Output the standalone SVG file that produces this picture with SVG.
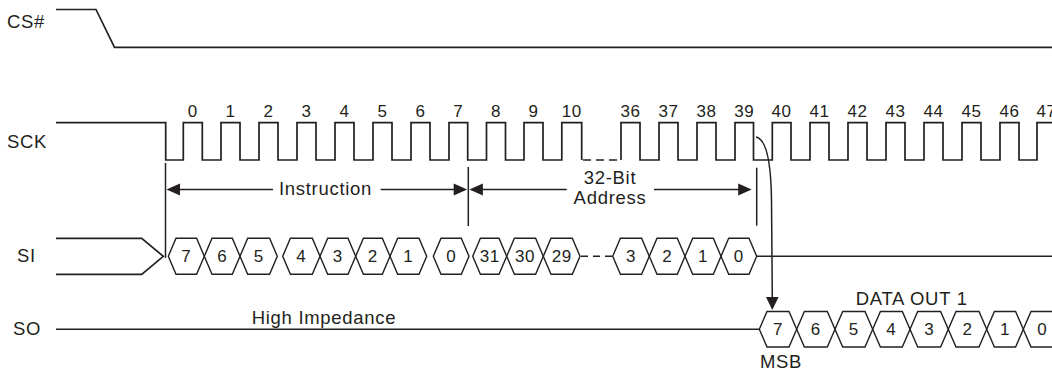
<svg xmlns="http://www.w3.org/2000/svg" width="1052" height="371" viewBox="0 0 1052 371">
<style>
.w{fill:none;stroke:#231f20;stroke-width:1.7;stroke-linejoin:miter}
.h{fill:none;stroke:#231f20;stroke-width:1.4}
.d{fill:none;stroke:#231f20;stroke-width:1.7;stroke-dasharray:8 5}
.c{fill:none;stroke:#231f20;stroke-width:1.5}
.ah{fill:#231f20;stroke:none}
text{font-family:"Liberation Sans",Arial,Helvetica,sans-serif;fill:#231f20}
.lb{font-size:18.5px;letter-spacing:0.7px}
.n{font-size:17px;text-anchor:middle;letter-spacing:0.6px}
.m{text-anchor:middle}
</style>
<rect width="1052" height="371" fill="#fff"/>

<g id="cs">
<text class="lb" x="7" y="28">CS#</text>
<path class="w" d="M56,9.5 H96 L114.5,47.3 H1052"/>
</g>

<g id="sck">
<text class="lb" x="7" y="148">SCK</text>
<path class="w" d="M56,122.7 H165.7 V160 H183.3 V122.7 H202.3 V160 H221 V122.7 H240 V160 H259 V122.7 H278 V160 H297 V122.7 H316 V160 H335 V122.7 H354 V160 H373 V122.7 H392 V160 H411 V122.7 H430 V160 H449 V122.7 H467.7 V160 H486.5 V122.7 H505.5 V160 H524 V122.7 H543 V160 H561.8 V122.7 H581.7 V160"/>
<path class="d" d="M583,160 H621"/>
<path class="w" d="M621,160 V122.7 H640 V160 H659 V122.7 H678 V160 H697 V122.7 H716 V160 H735 V122.7 H753.5 V160 H772.3 V122.7 H791 V160 H810 V122.7 H829 V160 H848 V122.7 H867 V160 H886 V122.7 H905 V160 H924 V122.7 H943 V160 H962 V122.7 H981 V160 H1000 V122.7 H1019 V160 H1037 V122.7 H1056"/>
<text class="n" x="192.8" y="117">0</text>
<text class="n" x="230.5" y="117">1</text>
<text class="n" x="268.5" y="117">2</text>
<text class="n" x="306.5" y="117">3</text>
<text class="n" x="344.5" y="117">4</text>
<text class="n" x="382.5" y="117">5</text>
<text class="n" x="420.5" y="117">6</text>
<text class="n" x="458.3" y="117">7</text>
<text class="n" x="496" y="117">8</text>
<text class="n" x="533.5" y="117">9</text>
<text class="n" x="571.7" y="117">10</text>
<text class="n" x="630.5" y="117">36</text>
<text class="n" x="668.5" y="117">37</text>
<text class="n" x="706.5" y="117">38</text>
<text class="n" x="744.3" y="117">39</text>
<text class="n" x="781.6" y="117">40</text>
<text class="n" x="819.5" y="117">41</text>
<text class="n" x="857.5" y="117">42</text>
<text class="n" x="895.5" y="117">43</text>
<text class="n" x="933.5" y="117">44</text>
<text class="n" x="971.5" y="117">45</text>
<text class="n" x="1009.5" y="117">46</text>
<text class="n" x="1046.5" y="117">47</text>
</g>

<g id="si">
<text class="lb" x="17" y="262">SI</text>
<path class="w" d="M56,238.3 H141.7 L163.3,256.3 L141.7,274.3 H56"/>
<path class="h" d="M168.3,256.3 L176,238.3 L196.6,238.3 L204.3,256.3 L196.6,274.3 L176,274.3 Z"/>
<path class="h" d="M204.3,256.3 L212,238.3 L232.3,238.3 L240,256.3 L232.3,274.3 L212,274.3 Z"/>
<path class="h" d="M240,256.3 L247.7,238.3 L269.6,238.3 L277.3,256.3 L269.6,274.3 L247.7,274.3 Z"/>
<path class="h" d="M282.7,256.3 L290.4,238.3 L312.3,238.3 L320,256.3 L312.3,274.3 L290.4,274.3 Z"/>
<path class="h" d="M320,256.3 L327.7,238.3 L348,238.3 L355.7,256.3 L348,274.3 L327.7,274.3 Z"/>
<path class="h" d="M355.7,256.3 L363.4,238.3 L382.3,238.3 L390,256.3 L382.3,274.3 L363.4,274.3 Z"/>
<path class="h" d="M390,256.3 L397.7,238.3 L419,238.3 L426.7,256.3 L419,274.3 L397.7,274.3 Z"/>
<path class="h" d="M433.3,256.3 L441,238.3 L461.3,238.3 L469,256.3 L461.3,274.3 L441,274.3 Z"/>
<path class="h" d="M472.7,256.3 L480.4,238.3 L499,238.3 L506.7,256.3 L499,274.3 L480.4,274.3 Z"/>
<path class="h" d="M506.7,256.3 L514.4,238.3 L535.6,238.3 L543.3,256.3 L535.6,274.3 L514.4,274.3 Z"/>
<path class="h" d="M543.3,256.3 L551,238.3 L572.3,238.3 L580,256.3 L572.3,274.3 L551,274.3 Z"/>
<path class="d" d="M581,256.3 H612" style="stroke-dasharray:7 5;stroke-width:1.5"/>
<path class="h" d="M612.7,256.3 L620.4,238.3 L641.6,238.3 L649.3,256.3 L641.6,274.3 L620.4,274.3 Z"/>
<path class="h" d="M649.3,256.3 L657,238.3 L677.3,238.3 L685,256.3 L677.3,274.3 L657,274.3 Z"/>
<path class="h" d="M685,256.3 L692.7,238.3 L713.3,238.3 L721,256.3 L713.3,274.3 L692.7,274.3 Z"/>
<path class="h" d="M721,256.3 L728.7,238.3 L749,238.3 L756.7,256.3 L749,274.3 L728.7,274.3 Z"/>
<path class="h" d="M756.7,256.3 H1052"/>
<text class="n" x="186.3" y="262">7</text>
<text class="n" x="222.2" y="262">6</text>
<text class="n" x="258.7" y="262">5</text>
<text class="n" x="301.4" y="262">4</text>
<text class="n" x="337.9" y="262">3</text>
<text class="n" x="372.9" y="262">2</text>
<text class="n" x="408.4" y="262">1</text>
<text class="n" x="451.2" y="262">0</text>
<text class="n" x="489.7" y="262">31</text>
<text class="n" x="525" y="262">30</text>
<text class="n" x="561.7" y="262">29</text>
<text class="n" x="631" y="262">3</text>
<text class="n" x="667.2" y="262">2</text>
<text class="n" x="703" y="262">1</text>
<text class="n" x="738.9" y="262">0</text>
</g>

<g id="so">
<text class="lb" x="13" y="335">SO</text>
<path class="h" d="M56,329.3 H759.3"/>
<text class="lb m" x="324" y="324">High Impedance</text>
<path class="h" d="M759.3,329.3 L767,311.5 L789,311.5 L796.7,329.3 L789,347 L767,347 Z"/>
<path class="h" d="M796.7,329.3 L804.4,311.5 L827.3,311.5 L835,329.3 L827.3,347 L804.4,347 Z"/>
<path class="h" d="M835,329.3 L842.7,311.5 L865,311.5 L872.7,329.3 L865,347 L842.7,347 Z"/>
<path class="h" d="M872.7,329.3 L880.4,311.5 L902.3,311.5 L910,329.3 L902.3,347 L880.4,347 Z"/>
<path class="h" d="M910,329.3 L917.7,311.5 L940.6,311.5 L948.3,329.3 L940.6,347 L917.7,347 Z"/>
<path class="h" d="M948.3,329.3 L956,311.5 L979,311.5 L986.7,329.3 L979,347 L956,347 Z"/>
<path class="h" d="M986.7,329.3 L994.4,311.5 L1015.6,311.5 L1023.3,329.3 L1015.6,347 L994.4,347 Z"/>
<path class="h" d="M1023.3,329.3 L1031,311.5 L1053.3,311.5 L1061,329.3 L1053.3,347 L1031,347 Z"/>
<text class="n" x="778" y="335">7</text>
<text class="n" x="815.9" y="335">6</text>
<text class="n" x="853.9" y="335">5</text>
<text class="n" x="891.4" y="335">4</text>
<text class="n" x="929.2" y="335">3</text>
<text class="n" x="967.5" y="335">2</text>
<text class="n" x="1005" y="335">1</text>
<text class="n" x="1042.2" y="335">0</text>
<text class="lb m" x="911.7" y="305">DATA OUT 1</text>
<text class="lb m" x="781" y="368">MSB</text>
</g>

<g id="connectors">
<path class="c" d="M165.5,163 V258"/>
<path class="c" d="M468.3,167 V226"/>
<path class="c" d="M756.7,167.7 V225.7"/>
<path class="c" d="M179,189.5 H273"/>
<path class="c" d="M380.7,189.5 H455"/>
<polygon class="ah" points="166.5,189.5 180,183.5 180,195.5"/>
<polygon class="ah" points="467.2,189.5 453.7,183.5 453.7,195.5"/>
<text class="lb m" x="325.5" y="195">Instruction</text>
<path class="c" d="M481,189.5 H566.7"/>
<path class="c" d="M654,189.5 H740"/>
<polygon class="ah" points="469.4,189.5 482.9,183.5 482.9,195.5"/>
<polygon class="ah" points="751.7,189.5 738.2,183.5 738.2,195.5"/>
<text class="lb m" x="610" y="183.5">32-Bit</text>
<text class="lb m" x="610" y="203.5">Address</text>
<path class="c" d="M756,137 C766,139 771,160 771.5,200 L772.3,299"/>
<polygon class="ah" points="772.3,310 766,297 778.6,297"/>
</g>
</svg>
